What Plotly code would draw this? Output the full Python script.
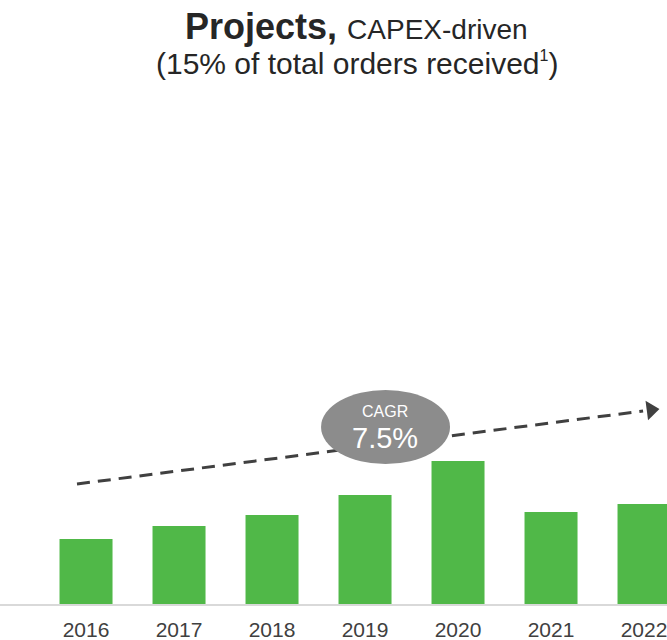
import plotly.graph_objects as go

years = ["2016", "2017", "2018", "2019", "2020", "2021", "2022"]
orders = [65, 78, 89, 109, 143, 92, 100]

# trend arrow (CAGR) endpoints in data coordinates
trend_x = [-0.097, 5.99]
trend_y = [120, 193]
head_x = [6.075]
head_y = [194]
cagr_label = "CAGR"
cagr_value = "7.5%"

GREEN = "#50B848"
DARK = "#404040"
FONT = "Liberation Sans, Arial, sans-serif"

fig = go.Figure()
fig.add_trace(go.Bar(x=years, y=orders, width=0.57, marker=dict(color=GREEN, line=dict(width=0)),
                     hoverinfo="skip"))
fig.add_trace(go.Scatter(x=trend_x, y=trend_y, mode="lines",
                         line=dict(color=DARK, width=3, dash="13px,8px"), hoverinfo="skip",
                         xaxis="x2"))
fig.add_trace(go.Scatter(x=head_x, y=head_y, mode="markers",
                         marker=dict(symbol="triangle-right", size=17, color=DARK, angle=-7.5),
                         hoverinfo="skip", xaxis="x2"))

xr = [-0.925, 6.247]
fig.update_layout(
    width=667, height=640,
    margin=dict(l=0, r=0, t=0, b=36, autoexpand=False),
    plot_bgcolor="white", paper_bgcolor="white",
    showlegend=False,
    xaxis=dict(type="category", range=xr, showgrid=False, zeroline=False, automargin=False,
               showline=True, linecolor="#d9d9d9", linewidth=2, ticks="",
               tickfont=dict(family=FONT, size=21, color=DARK), ticklabeloverflow="allow",
               ticklabelstandoff=6),
    xaxis2=dict(type="linear", range=xr, overlaying="x", visible=False),
    yaxis=dict(range=[0, 604], visible=False, showgrid=False, zeroline=False, automargin=False),
    font=dict(family=FONT),
)

# CAGR ellipse
fig.add_shape(type="circle", xref="x2", yref="y", x0=2.527, x1=3.914, y0=140, y1=214,
              fillcolor="#8C8C8C", line=dict(width=0), layer="above")
fig.add_annotation(x=3.22, y=193, xref="x2", yref="y", text=cagr_label, showarrow=False,
                   font=dict(family=FONT, size=16, color="white"))
fig.add_annotation(x=3.22, y=166, xref="x2", yref="y", text=cagr_value, showarrow=False,
                   font=dict(family=FONT, size=29, color="white"))

# Titles
fig.add_annotation(x=357 / 667, y=(604 - 27) / 604, xref="paper", yref="paper",
                   text="<b>Projects,</b> <span style='font-size:28px'>CAPEX-driven</span>",
                   showarrow=False, xanchor="center", yanchor="middle",
                   font=dict(family=FONT, size=36, color="#262626"))
fig.add_annotation(x=357 / 667, y=(604 - 63) / 604, xref="paper", yref="paper",
                   text="(15% of total orders received<sup><span style='font-size:16px'>1</span></sup>)",
                   showarrow=False, xanchor="center", yanchor="middle",
                   font=dict(family=FONT, size=30, color="#262626"))

fig.write_html("out.html", config={"displayModeBar": False},
               post_script="document.body.style.margin='0';")
